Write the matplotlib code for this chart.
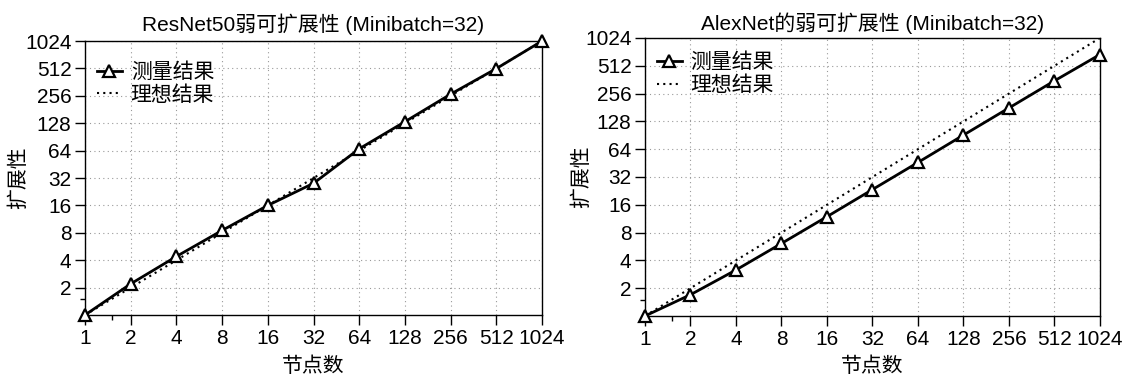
import matplotlib
matplotlib.use("Agg")
import matplotlib.pyplot as plt
from matplotlib.ticker import FixedLocator, NullFormatter

plt.rcParams['font.family'] = ['Liberation Sans', 'Noto Sans CJK SC']

nodes = [1, 2, 4, 8, 16, 32, 64, 128, 256, 512, 1024]
ideal = [1, 2, 4, 8, 16, 32, 64, 128, 256, 512, 1024]
resnet_measured = [1.0, 2.2, 4.4, 8.5, 16.0, 28.0, 67, 133, 267, 510, 1024]
alexnet_measured = [1.0, 1.7, 3.15, 6.1, 11.9, 23.4, 46, 91, 179, 352, 678]

tick_values = [1, 2, 4, 8, 16, 32, 64, 128, 256, 512, 1024]
y_tick_values = [2, 4, 8, 16, 32, 64, 128, 256, 512, 1024]

titles = ["ResNet50弱可扩展性 (Minibatch=32)", "AlexNet的弱可扩展性 (Minibatch=32)"]
series = [resnet_measured, alexnet_measured]
label_measured = "测量结果"
label_ideal = "理想结果"
xlabel = "节点数"
ylabel = "扩展性"

fig = plt.figure(figsize=(11.26, 3.76), dpi=100)
panels = [
    dict(rect=[0.0755, 0.1622, 0.4059, 0.7287], title_pad=7,
         legend_anchor=(0.012, 0.945), ylabel_x=-0.125, xlabel_y=-0.15),
    dict(rect=[0.5728, 0.1596, 0.4041, 0.7394], title_pad=6,
         legend_anchor=(0.012, 0.97), ylabel_x=-0.119, xlabel_y=-0.145),
]

for p, title, measured in zip(panels, titles, series):
    ax = fig.add_axes(p['rect'])
    ax.set_xscale('log', base=2)
    ax.set_yscale('log', base=2)
    ax.plot(nodes, measured, color='black', lw=2.0, marker='^', markersize=8.5,
            markerfacecolor='white', markeredgecolor='black', markeredgewidth=1.6,
            label=label_measured, clip_on=False, zorder=4)
    ax.plot(nodes, ideal, color='black', lw=1.5, linestyle=(0, (1, 2)),
            label=label_ideal, zorder=3)
    ax.set_xlim(1, 1024)
    ax.set_ylim(1, 1024)
    ax.xaxis.set_major_locator(FixedLocator(tick_values))
    ax.set_xticklabels([str(v) for v in tick_values])
    ax.xaxis.set_minor_locator(FixedLocator([1.5]))
    ax.xaxis.set_minor_formatter(NullFormatter())
    ax.yaxis.set_major_locator(FixedLocator(y_tick_values))
    ax.set_yticklabels([str(v) for v in y_tick_values])
    ax.yaxis.set_minor_locator(FixedLocator([1.5]))
    ax.yaxis.set_minor_formatter(NullFormatter())
    ax.tick_params(axis='both', which='major', labelsize=15, length=7.2, width=1,
                   direction='out')
    ax.tick_params(axis='x', which='major', pad=3)
    ax.tick_params(axis='y', which='major', pad=2.5)
    ax.tick_params(axis='both', which='minor', length=3.6, width=1, direction='out')
    ax.grid(True, which='major', color='#999999', linestyle=(0, (1, 3)), linewidth=0.8)
    for s in ax.spines.values():
        s.set_linewidth(1.0)
    ax.set_title(title, fontsize=15, pad=p['title_pad'])
    ax.set_xlabel(xlabel, fontsize=15)
    ax.set_ylabel(ylabel, fontsize=15)
    ax.xaxis.set_label_coords(0.5, p['xlabel_y'])
    ax.yaxis.set_label_coords(p['ylabel_x'], 0.5)
    ax.legend(loc='upper left', bbox_to_anchor=p['legend_anchor'], frameon=False,
              fontsize=15, handlelength=1.2, handletextpad=0.43, labelspacing=0.15,
              borderaxespad=0.0, borderpad=0.3)

fig.savefig("out.png", dpi=100)
